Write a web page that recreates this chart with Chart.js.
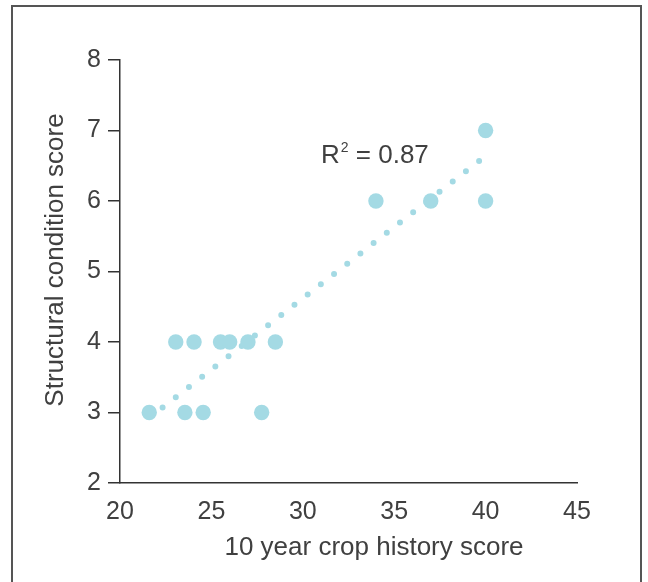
<!DOCTYPE html>
<html>
<head>
<meta charset="utf-8">
<script src="https://cdn.jsdelivr.net/npm/chart.js@4/dist/chart.umd.min.js"></script>
<style>
  html, body { margin: 0; padding: 0; background: #fff; }
  #wrap { position: relative; width: 648px; height: 582px; overflow: hidden; }
  #frame { position: absolute; left: 11px; top: 5px; width: 631px; height: 700px; border: 2px solid #555; box-sizing: border-box; }
  canvas { position: absolute; left: 0; top: 0; }
</style>
</head>
<body>
<div id="wrap">
  <div id="frame"></div>
  <canvas id="c" width="648" height="582"></canvas>
</div>
<script>
// Data
const cropHistory = [21.6, 23.05, 23.55, 24.05, 24.55, 25.5, 26.0, 27.0, 27.75, 28.5, 34.0, 37.0, 40.0, 40.0];
const structuralScore = [3, 4, 3, 4, 3, 4, 4, 4, 3, 4, 6, 6, 7, 6];
// Trendline end points as seen in the picture
const trendX = [22.33, 39.65];
const trendY = [3.07, 6.57];
const xTicks = [20, 25, 30, 35, 40, 45];
const yTicks = [2, 3, 4, 5, 6, 7, 8];
const xTitle = '10 year crop history score';
const yTitle = 'Structural condition score';
const r2Value = '0.87';

const FONT = '"Liberation Sans", Arial, Helvetica, sans-serif';
const TXT = '#404040';
const DOT = '#a4dae4';

const points = cropHistory.map((x, i) => ({ x: x, y: structuralScore[i] }));
const trend = trendX.map((x, i) => ({ x: x, y: trendY[i] }));

const textPlugin = {
  id: 'texts',
  afterDraw(chart) {
    const ctx = chart.ctx;
    ctx.save();
    ctx.fillStyle = TXT;
    ctx.font = '26px ' + FONT;
    // x title
    ctx.textAlign = 'center';
    ctx.textBaseline = 'alphabetic';
    ctx.fillText(xTitle, 374, 555);
    // y title
    ctx.save();
    ctx.translate(63, 260);
    ctx.rotate(-Math.PI / 2);
    ctx.fillText(yTitle, 0, 0);
    ctx.restore();
    // R² annotation
    ctx.textAlign = 'left';
    let x = 321;
    ctx.font = '26px ' + FONT;
    ctx.fillText('R', x, 163);
    x += ctx.measureText('R').width;
    ctx.font = '14px ' + FONT;
    ctx.fillText('2', x + 1, 152);
    x += ctx.measureText('2').width + 1;
    ctx.font = '26px ' + FONT;
    ctx.fillText(' = ' + r2Value, x, 163);
    ctx.restore();
  }
};

new Chart(document.getElementById('c'), {
  type: 'scatter',
  data: {
    datasets: [
      {
        data: points,
        backgroundColor: DOT,
        borderWidth: 0,
        pointRadius: 7.7,
        pointHoverRadius: 7.7
      },
      {
        type: 'line',
        data: trend,
        showLine: true,
        borderColor: DOT,
        borderWidth: 6,
        borderDash: [0, 16.72],
        borderCapStyle: 'round',
        pointRadius: 0,
        fill: false
      }
    ]
  },
  options: {
    responsive: false,
    animation: false,
    events: [],
    layout: { padding: { left: 0, top: 60, right: 71, bottom: 0 } },
    plugins: { legend: { display: false }, tooltip: { enabled: false } },
    scales: {
      x: {
        type: 'linear',
        min: 20, max: 45,
        afterBuildTicks(scale) { scale.ticks = xTicks.map(v => ({ value: v })); },
        afterFit(scale) { scale.height = 99; },
        grid: { display: false, drawTicks: false },
        border: { display: true, color: '#333', width: 1.5 },
        ticks: { color: TXT, font: { family: FONT, size: 25 }, padding: 14, maxRotation: 0, autoSkip: false }
      },
      y: {
        type: 'linear',
        min: 2, max: 8,
        afterBuildTicks(scale) { scale.ticks = yTicks.map(v => ({ value: v })); },
        afterFit(scale) { scale.width = 120; },
        grid: { display: true, drawOnChartArea: false, drawTicks: true, tickLength: 12, color: '#333', lineWidth: 1.5 },
        border: { display: true, color: '#333', width: 1.5 },
        ticks: { color: TXT, font: { family: FONT, size: 25 }, padding: 7 }
      }
    }
  },
  plugins: [textPlugin]
});
</script>
</body>
</html>
